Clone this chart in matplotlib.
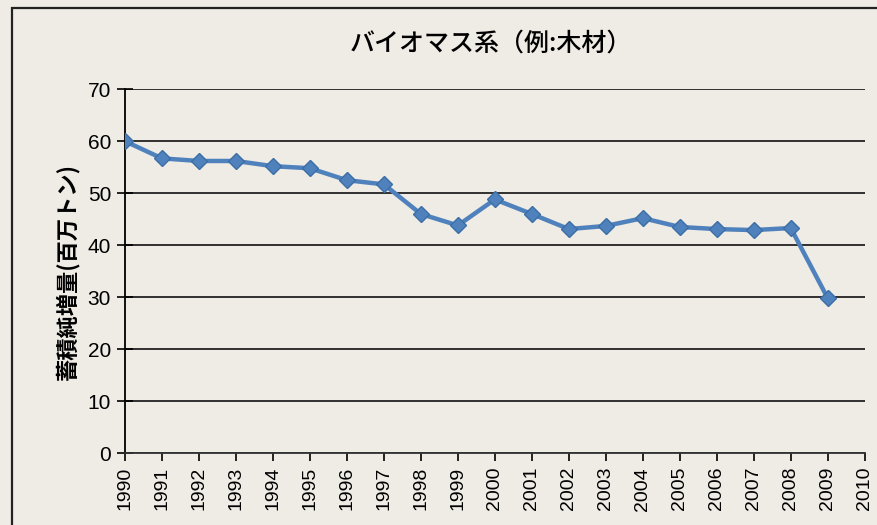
import numpy as np
import matplotlib.pyplot as plt
from matplotlib.patches import Rectangle

plt.rcParams['font.family'] = ['Noto Sans CJK JP', 'DejaVu Sans']

years = list(range(1990, 2010))
values = [60.0, 56.7, 56.2, 56.2, 55.2, 54.8, 52.5, 51.7, 46.0, 43.8,
          48.8, 46.0, 43.1, 43.7, 45.2, 43.5, 43.1, 42.9, 43.3, 29.8]
year_ticks = list(range(1990, 2011))
y_ticks = [0, 10, 20, 30, 40, 50, 60, 70]

title = 'バイオマス系（例:木材）'
ylabel = '蓄積純増量(百万トン)'

bg = '#efebe5'
fig = plt.figure(figsize=(8.77, 5.25), dpi=100, facecolor=bg)
ax = fig.add_axes([0.1425, 0.137, 0.8435, 0.693])
ax.set_facecolor(bg)

# scanned frame around the chart
fig.patches.append(Rectangle((12 / 877, -0.1), 1.2, 1 - 8 / 525 + 0.1,
                             transform=fig.transFigure, fill=False,
                             edgecolor='#222222', linewidth=1.6))

ax.plot(years, values, '-D', color='#4f81bd', lw=3.2, ms=8,
        mfc='#4f81bd', mec='#3c6ea6', zorder=3)

ax.set_xlim(1990, 2010)
ax.set_ylim(0, 70)
ax.set_xticks(year_ticks)
ax.set_xticklabels([str(y) for y in year_ticks], rotation=90, fontsize=14,
                   family='Liberation Sans')
ax.set_yticks(y_ticks)
ax.set_yticklabels([str(v) for v in y_ticks], fontsize=15, family='Liberation Sans')
ax.tick_params(axis='y', direction='inout', length=12, width=1.2, pad=4)
ax.tick_params(axis='x', direction='out', length=6, width=1.2, pad=4)
ax.yaxis.grid(True, color='#111111', lw=1.2)
ax.set_axisbelow(True)
for s in ['top', 'right']:
    ax.spines[s].set_visible(False)
ax.spines['left'].set_linewidth(1.3)
ax.spines['bottom'].set_linewidth(1.3)
ax.spines['bottom'].set_color('#333333')

ax.set_ylabel(ylabel, fontsize=16, fontweight='bold', labelpad=6)
fig.text(0.56, 0.918, title, fontsize=18, fontweight='medium', ha='center', va='center')

fig.savefig('out.png', dpi=100, facecolor=bg)
